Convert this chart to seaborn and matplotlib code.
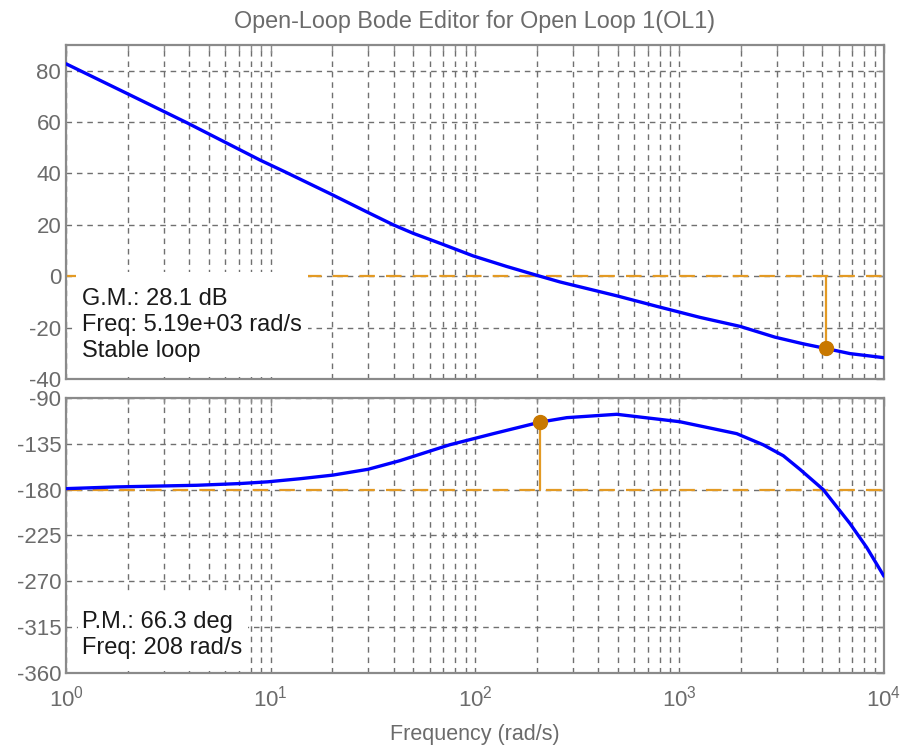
import matplotlib
matplotlib.use("Agg")
import matplotlib.pyplot as plt
import matplotlib.ticker as mticker
from matplotlib.patches import Rectangle
import seaborn as sns

# Magnitude curve
mag_freq = [1, 1.98, 3.89, 8.9, 11.8, 19.5, 29.5, 39.9, 49.9, 68.7, 98.1, 143, 200,
            260, 303, 493, 774, 1259, 1977, 2930, 4030, 5190, 6820, 10000]
mag_db = [82.7, 71.2, 59.8, 45.2, 40.6, 32.2, 25.1, 20.0, 16.7, 12.6, 7.9, 3.8, 0.4,
          -2.2, -3.5, -7.6, -11.7, -16.0, -19.5, -23.7, -26.3, -28.1, -30.1, -31.7]

# Phase curve
phase_freq = [1, 1.77, 4.36, 7.1, 9.7, 13.9, 20.2, 30, 43, 75, 123, 208, 281, 493,
              1004, 1905, 2570, 3220, 3880, 5050, 6820, 8230, 10000]
phase_deg = [-179, -177.3, -175.7, -174, -172.3, -169.3, -165.7, -160, -151.5, -136, -125,
             -113.7, -109.3, -106, -113.3, -125, -136, -146.7, -160, -180, -213.3,
             -236.7, -265]

# Margins
gm_db = 28.1
gm_freq = 5190
pm_deg = 66.3
pm_freq = 208

mag_ticks = [-40, -20, 0, 20, 40, 60, 80]
phase_ticks = [-360, -315, -270, -225, -180, -135, -90]

sns.set_style("white")
plt.rcParams['font.family'] = ['Liberation Sans', 'DejaVu Sans']
plt.rcParams['mathtext.fontset'] = 'custom'
plt.rcParams['mathtext.rm'] = 'Liberation Sans'
plt.rcParams['axes.unicode_minus'] = False

label_color = '#6b6b6b'
grid_color = '#707070'
spine_color = '#8a8a8a'
orange = '#e39a24'
marker_orange = '#c87800'
blue = '#0000ff'

fig = plt.figure(figsize=(9.01, 7.47), dpi=100)
ax_mag = fig.add_axes([0.0733, 0.4926, 0.9078, 0.4471])
ax_ph = fig.add_axes([0.0733, 0.0991, 0.9078, 0.3681])


def style_axes(ax):
    ax.set_xscale('log')
    ax.set_xlim(1, 1e4)
    ax.xaxis.set_minor_locator(mticker.LogLocator(base=10, subs=range(2, 10), numticks=20))
    ax.grid(True, which='both', axis='x', linestyle=(0, (4, 3.5)), color=grid_color, lw=1)
    ax.grid(True, which='major', axis='y', linestyle=(0, (4, 3.5)), color=grid_color, lw=1)
    ax.tick_params(which='both', direction='in', top=True, right=True,
                   color=spine_color, labelcolor=label_color, labelsize=16)
    ax.tick_params(which='major', length=6, width=1)
    ax.tick_params(which='minor', length=4, width=1)
    ax.tick_params(axis='x', which='major', pad=9)
    ax.yaxis.set_minor_locator(mticker.NullLocator())
    for sp in ax.spines.values():
        sp.set_color(spine_color)
        sp.set_linewidth(1.6)


# --- magnitude ---
style_axes(ax_mag)
ax_mag.set_ylim(-40, 90)
ax_mag.set_yticks(mag_ticks)
ax_mag.tick_params(labelbottom=False)
ax_mag.axhline(0, color=orange, lw=1.6, linestyle=(0, (7, 5)), zorder=2)
ax_mag.plot([gm_freq, gm_freq], [0, -gm_db], color=orange, lw=1.6, zorder=2)
sns.lineplot(x=mag_freq, y=mag_db, ax=ax_mag, color=blue, linewidth=2.4, sort=False, zorder=3)
ax_mag.plot([gm_freq], [-gm_db], 'o', color=marker_orange, markersize=10, zorder=5)
ax_mag.add_patch(Rectangle((0.012, 0.006), 0.284, 0.314, transform=ax_mag.transAxes,
                           facecolor='white', edgecolor='none', zorder=6))
ax_mag.text(0.0196, 0.162, f"G.M.: {gm_db} dB\nFreq: 5.19e+03 rad/s\nStable loop",
            transform=ax_mag.transAxes, ha='left', va='center', fontsize=17,
            color='#1a1a1a', linespacing=1.24, zorder=7)
ax_mag.set_title("Open-Loop Bode Editor for Open Loop 1(OL1)", fontsize=16.8,
                 color=label_color, pad=12)
ax_mag.set_xlabel("")
ax_mag.set_ylabel("")

# --- phase ---
style_axes(ax_ph)
ax_ph.set_ylim(-360, -90)
ax_ph.set_yticks(phase_ticks)
ax_ph.axhline(-180, color=orange, lw=1.6, linestyle=(0, (7, 5)), zorder=2)
ax_ph.plot([pm_freq, pm_freq], [-180, -180 + pm_deg], color=orange, lw=1.6, zorder=2)
sns.lineplot(x=phase_freq, y=phase_deg, ax=ax_ph, color=blue, linewidth=2.4, sort=False, zorder=3)
ax_ph.plot([pm_freq], [-180 + pm_deg], 'o', color=marker_orange, markersize=10, zorder=5)
ax_ph.add_patch(Rectangle((0.0147, 0.007), 0.208, 0.276, transform=ax_ph.transAxes,
                          facecolor='white', edgecolor='none', zorder=6))
ax_ph.text(0.0196, 0.138, f"P.M.: {pm_deg} deg\nFreq: {pm_freq} rad/s",
           transform=ax_ph.transAxes, ha='left', va='center', fontsize=17,
           color='#1a1a1a', linespacing=1.24, zorder=7)
ax_ph.set_xlabel("Frequency (rad/s)", fontsize=15.5, color=label_color, labelpad=9)
ax_ph.set_ylabel("")

fig.savefig("out.png", dpi=100)
